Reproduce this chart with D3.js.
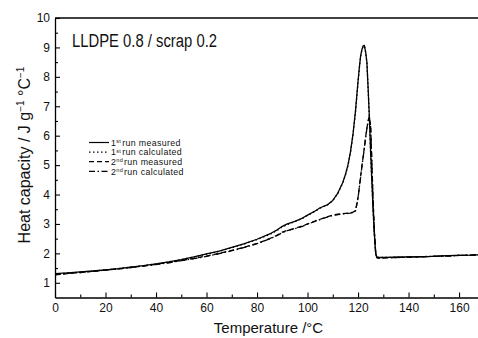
<!DOCTYPE html>
<html>
<head>
<meta charset="utf-8">
<script src="https://cdn.jsdelivr.net/npm/d3@7/dist/d3.min.js"></script>
<style>
  html, body { margin: 0; padding: 0; background: #fff; }
  svg { display: block; font-family: "Liberation Sans", Arial, sans-serif; }
</style>
</head>
<body>
<svg id="chart" width="478" height="338"></svg>
<script>
// Temperature grid (°C) shared by all four heat-capacity traces
const temps = [
  0, 5, 10, 15, 20, 25, 30, 35, 40, 45,
  50, 55, 60, 65, 70, 75, 80, 85, 88, 90,
  92, 95, 98, 100, 103, 105, 108, 110, 112, 114,
  115, 116, 117, 118, 119, 120, 120.5, 121, 121.5, 122,
  122.5, 123, 123.5, 124, 124.5, 125, 125.5, 126, 126.5, 127,
  127.5, 128, 130, 135, 140, 145, 150, 155, 160, 165,
  167.5
];

// Heat capacity, J g^-1 °C^-1
const run1Measured = [
  1.31, 1.34, 1.37, 1.40, 1.44, 1.48, 1.53, 1.58, 1.64, 1.71,
  1.79, 1.88, 1.98, 2.08, 2.20, 2.33, 2.48, 2.66, 2.80, 2.92,
  3.00, 3.09, 3.20, 3.30, 3.44, 3.55, 3.66, 3.80, 4.05, 4.42,
  4.68, 5.00, 5.45, 6.05, 6.85, 7.85, 8.30, 8.70, 8.92, 9.05,
  9.07, 8.85, 8.50, 7.60, 6.60, 5.40, 4.40, 3.40, 2.60, 2.00,
  1.86, 1.86, 1.86, 1.87, 1.88, 1.89, 1.90, 1.92, 1.93, 1.94,
  1.95
];
const run1Calculated = [
  1.30, 1.33, 1.36, 1.40, 1.44, 1.48, 1.53, 1.58, 1.64, 1.71,
  1.79, 1.88, 1.97, 2.07, 2.19, 2.32, 2.47, 2.64, 2.78, 2.90,
  2.98, 3.08, 3.19, 3.29, 3.43, 3.54, 3.65, 3.79, 4.04, 4.40,
  4.66, 4.98, 5.42, 6.02, 6.82, 7.82, 8.28, 8.68, 8.90, 9.03,
  9.05, 8.84, 8.48, 7.58, 6.58, 5.38, 4.38, 3.38, 2.58, 1.99,
  1.86, 1.86, 1.86, 1.87, 1.88, 1.89, 1.90, 1.92, 1.93, 1.94,
  1.95
];
const run2Measured = [
  1.27, 1.31, 1.35, 1.39, 1.43, 1.47, 1.52, 1.57, 1.63, 1.69,
  1.76, 1.83, 1.91, 2.00, 2.10, 2.21, 2.34, 2.50, 2.62, 2.72,
  2.78, 2.85, 2.93, 3.00, 3.10, 3.16, 3.25, 3.30, 3.33, 3.35,
  3.36, 3.37, 3.38, 3.40, 3.45, 3.90, 4.25, 4.60, 4.95, 5.27,
  5.60, 5.95, 6.25, 6.52, 6.65, 6.30, 5.00, 3.70, 2.70, 2.00,
  1.85, 1.84, 1.85, 1.86, 1.87, 1.88, 1.90, 1.91, 1.93, 1.94,
  1.95
];
const run2Calculated = [
  1.28, 1.32, 1.35, 1.39, 1.43, 1.47, 1.52, 1.57, 1.62, 1.68,
  1.75, 1.82, 1.90, 1.99, 2.09, 2.20, 2.33, 2.49, 2.61, 2.70,
  2.77, 2.84, 2.92, 2.99, 3.09, 3.15, 3.24, 3.29, 3.32, 3.34,
  3.35, 3.36, 3.37, 3.39, 3.44, 3.88, 4.23, 4.58, 4.93, 5.25,
  5.58, 5.93, 6.23, 6.50, 6.62, 6.28, 4.98, 3.68, 2.68, 1.99,
  1.85, 1.84, 1.85, 1.86, 1.87, 1.88, 1.90, 1.91, 1.93, 1.94,
  1.95
];

// Axis ticks
const xMajorTicks = [0, 20, 40, 60, 80, 100, 120, 140, 160];
const xMinorTicks = [10, 30, 50, 70, 90, 110, 130, 150];
const yMajorTicks = [1, 2, 3, 4, 5, 6, 7, 8, 9, 10];
const yMinorTicks = [1.5, 2.5, 3.5, 4.5, 5.5, 6.5, 7.5, 8.5, 9.5];

// Series labels and line dash patterns
const seriesRun = ["1", "1", "2", "2"];
const seriesOrdinal = ["st", "st", "nd", "nd"];
const seriesLabels = ["run measured", "run calculated", "run measured", "run calculated"];
const seriesDashes = [null, "1.5,2.5", "5,3", "6,2.5,1.5,2.5"];
const seriesValues = [run1Measured, run1Calculated, run2Measured, run2Calculated];

const svg = d3.select("#chart");
const plotLeft = 55, plotRight = 478, plotTop = 18, plotBottom = 297.5;

const x = d3.scaleLinear().domain([0, 167.5]).range([plotLeft, plotRight]);
const y = d3.scaleLinear().domain([0.5, 10]).range([plotBottom, plotTop]);

// Axes: ticks point inward
svg.append("g").attr("transform", `translate(0,${plotBottom})`)
  .call(d3.axisBottom(x).tickValues(xMajorTicks).tickSizeInner(-5).tickSizeOuter(0).tickPadding(6).tickFormat(d3.format("d")));
const xMinor = svg.append("g").attr("transform", `translate(0,${plotBottom})`)
  .call(d3.axisBottom(x).tickValues(xMinorTicks).tickSizeInner(-3).tickSizeOuter(0).tickFormat(""));
xMinor.select(".domain").remove();

svg.append("g").attr("transform", `translate(${plotLeft},0)`)
  .call(d3.axisLeft(y).tickValues(yMajorTicks).tickSizeInner(-5).tickSizeOuter(0).tickPadding(5).tickFormat(d3.format("d")));
const yMinor = svg.append("g").attr("transform", `translate(${plotLeft},0)`)
  .call(d3.axisLeft(y).tickValues(yMinorTicks).tickSizeInner(-3).tickSizeOuter(0).tickFormat(""));
yMinor.select(".domain").remove();

svg.selectAll(".domain").attr("stroke", "#000").attr("stroke-width", 1.3);
svg.selectAll(".tick line").attr("stroke", "#000").attr("stroke-width", 1.1);
svg.selectAll(".tick text")
  .attr("font-family", "'Liberation Sans', Arial, sans-serif")
  .attr("font-size", 12).attr("fill", "#111");

// Frame top edge
svg.append("line")
  .attr("x1", plotLeft).attr("x2", plotRight).attr("y1", plotTop).attr("y2", plotTop)
  .attr("stroke", "#000").attr("stroke-width", 1.3);

// Curves
const line = d3.line()
  .x((d, i) => x(temps[i]))
  .y(d => y(d));

seriesValues.forEach((vals, k) => {
  svg.append("path")
    .datum(vals)
    .attr("d", line)
    .attr("fill", "none")
    .attr("stroke", "#000")
    .attr("stroke-width", 1.3)
    .attr("stroke-linejoin", "round")
    .attr("stroke-dasharray", seriesDashes[k]);
});

// Sample annotation
svg.append("text")
  .attr("x", 72).attr("y", 46.5)
  .attr("font-size", 18)
  .attr("textLength", 145)
  .attr("lengthAdjust", "spacingAndGlyphs")
  .attr("fill", "#111")
  .text("LLDPE 0.8 / scrap 0.2");

// Legend
const legend = svg.append("g");
seriesLabels.forEach((lab, k) => {
  const cy = 142.5 + k * 9.6;
  legend.append("line")
    .attr("x1", 89).attr("x2", 109).attr("y1", cy).attr("y2", cy)
    .attr("stroke", "#000").attr("stroke-width", 1.2)
    .attr("stroke-dasharray", seriesDashes[k]);
  const t = legend.append("text")
    .attr("x", 111).attr("y", cy + 3.2)
    .attr("font-size", 8.8).attr("letter-spacing", 0.35).attr("fill", "#111");
  t.append("tspan").text(seriesRun[k]);
  t.append("tspan").attr("font-size", 5.5).attr("dy", -2.5).text(seriesOrdinal[k]);
  t.append("tspan").attr("dy", 2.5).attr("dx", 1).text(lab);
});

// Axis titles
svg.append("text")
  .attr("x", (plotLeft + plotRight) / 2 + 2).attr("y", 333)
  .attr("text-anchor", "middle")
  .attr("font-size", 15).attr("fill", "#111")
  .text("Temperature /°C");

const yt = svg.append("text")
  .attr("transform", "translate(30,155) rotate(-90)")
  .attr("text-anchor", "middle")
  .attr("font-size", 16).attr("fill", "#111");
yt.append("tspan").text("Heat capacity / J g");
yt.append("tspan").attr("font-size", 10).attr("dy", -6).text("\u22121");
yt.append("tspan").attr("dy", 6).text(" °C");
yt.append("tspan").attr("font-size", 10).attr("dy", -6).text("\u22121");
</script>
</body>
</html>
